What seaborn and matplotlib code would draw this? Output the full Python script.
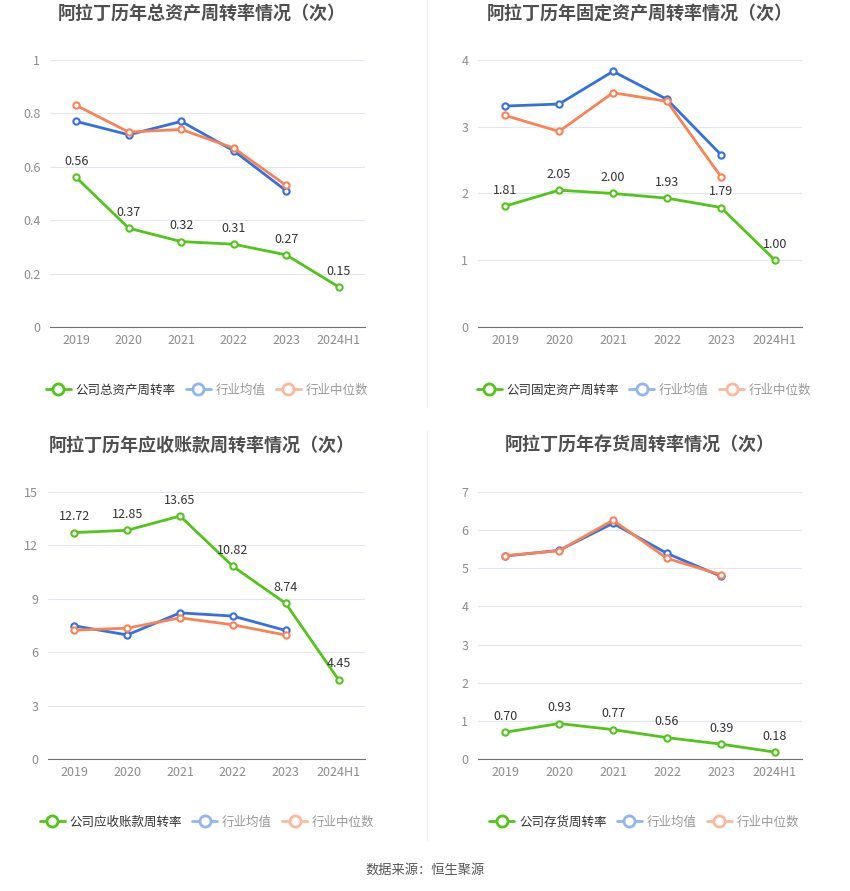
import seaborn as sns
import matplotlib.pyplot as plt
from matplotlib.lines import Line2D
import numpy as np
import pandas as pd

width, height, my_dpi = 850, 891, 100

years = ['2019', '2020', '2021', '2022', '2023', '2024H1']

# 总资产周转率
total_company = [0.56, 0.37, 0.32, 0.31, 0.27, 0.15]
total_mean = [0.77, 0.72, 0.77, 0.66, 0.51, np.nan]
total_median = [0.83, 0.73, 0.74, 0.67, 0.53, np.nan]

# 固定资产周转率
fixed_company = [1.81, 2.05, 2.00, 1.93, 1.79, 1.00]
fixed_mean = [3.31, 3.34, 3.83, 3.41, 2.58, np.nan]
fixed_median = [3.17, 2.93, 3.51, 3.38, 2.25, np.nan]

# 应收账款周转率
recv_company = [12.72, 12.85, 13.65, 10.82, 8.74, 4.45]
recv_mean = [7.48, 6.97, 8.21, 8.03, 7.22, np.nan]
recv_median = [7.24, 7.35, 7.93, 7.54, 6.96, np.nan]

# 存货周转率
inv_company = [0.70, 0.93, 0.77, 0.56, 0.39, 0.18]
inv_mean = [5.32, 5.47, 6.18, 5.39, 4.79, np.nan]
inv_median = [5.33, 5.46, 6.26, 5.26, 4.83, np.nan]

sns.set_style('white')
plt.rcParams['font.family'] = ['Noto Sans CJK SC', 'DejaVu Sans']

GREEN, BLUE, ORANGE = '#52c41a', '#3470e0', '#fa8254'
GREEN_L, BLUE_L, ORANGE_L = '#52c41a', '#93b3f2', '#fcb79e'

panels = [
    dict(title='阿拉丁历年总资产周转率情况（次）', name='公司总资产周转率',
         data=(total_company, total_mean, total_median), yt=[0, 0.2, 0.4, 0.6, 0.8, 1], ytl=['0', '0.2', '0.4', '0.6', '0.8', '1'],
         box=(50, 60, 365, 327), tx=202, ty=13, ly=390, lx=207),
    dict(title='阿拉丁历年固定资产周转率情况（次）', name='公司固定资产周转率',
         data=(fixed_company, fixed_mean, fixed_median), yt=[0, 1, 2, 3, 4], ytl=['0', '1', '2', '3', '4'],
         box=(478, 60, 802, 327), tx=640, ty=13, ly=390, lx=644),
    dict(title='阿拉丁历年应收账款周转率情况（次）', name='公司应收账款周转率',
         data=(recv_company, recv_mean, recv_median), yt=[0, 3, 6, 9, 12, 15], ytl=['0', '3', '6', '9', '12', '15'],
         box=(48, 492, 365, 759), tx=202, ty=445, ly=822, lx=207),
    dict(title='阿拉丁历年存货周转率情况（次）', name='公司存货周转率',
         data=(inv_company, inv_mean, inv_median), yt=[0, 1, 2, 3, 4, 5, 6, 7], ytl=['0', '1', '2', '3', '4', '5', '6', '7'],
         box=(478, 492, 802, 759), tx=640, ty=445, ly=822, lx=644),
]

fig = plt.figure(figsize=(width / my_dpi, height / my_dpi), dpi=my_dpi)

x = np.arange(len(years))
for p in panels:
    l, t, r, b = p['box']
    ax = fig.add_axes([l / width, 1 - b / height, (r - l) / width, (b - t) / height])
    comp, mean, med = p['data']
    df = pd.DataFrame({'x': x, 'company': comp, 'mean': mean, 'median': med})
    for col, c in [('company', GREEN), ('mean', BLUE), ('median', ORANGE)]:
        d = df.dropna(subset=[col])
        sns.lineplot(x='x', y=col, data=d, ax=ax, color=c, lw=2, marker='o',
                     markersize=4.5, markerfacecolor='white', markeredgecolor=c,
                     markeredgewidth=1.5, legend=False)
    top = p['yt'][-1]
    for xi, v in zip(x, comp):
        ax.text(xi, v + top * 0.035, f'{v:.2f}', ha='center', va='bottom', fontsize=9, color='#333333')
    ax.set_xlim(-0.5, 5.5)
    ax.set_ylim(0, top)
    ax.set_xticks(x)
    ax.set_xticklabels(years)
    ax.set_yticks(p['yt'])
    ax.set_yticklabels(p['ytl'])
    ax.set_xlabel('')
    ax.set_ylabel('')
    ax.yaxis.grid(True, color='#e3e7f3', lw=0.8)
    ax.set_axisbelow(True)
    for s in ['top', 'right', 'left']:
        ax.spines[s].set_visible(False)
    ax.spines['bottom'].set_color('#6e7079')
    ax.tick_params(axis='x', length=4, color='#6e7079', labelcolor='#8c8c8c', labelsize=9, pad=1)
    ax.tick_params(axis='y', length=0, labelcolor='#8c8c8c', labelsize=9, pad=7)

    fig.text(p['tx'] / width, 1 - p['ty'] / height, p['title'], ha='center', va='center',
             fontsize=13, fontweight='bold', color='#4f4f4f')

    handles = [
        Line2D([], [], color=GREEN_L, lw=2, marker='o', ms=8, mfc='white', mew=2),
        Line2D([], [], color=BLUE_L, lw=2, marker='o', ms=8, mfc='white', mew=2),
        Line2D([], [], color=ORANGE_L, lw=2, marker='o', ms=8, mfc='white', mew=2),
    ]
    leg = fig.legend(handles, [p['name'], '行业均值', '行业中位数'], loc='center',
                     bbox_to_anchor=(p['lx'] / width, 1 - p['ly'] / height), ncol=3, frameon=False,
                     fontsize=9, handlelength=2.0, handletextpad=0.4, columnspacing=0.8)
    for txt, c in zip(leg.get_texts(), ['#333333', '#999999', '#999999']):
        txt.set_color(c)

# divider lines
fig.add_artist(Line2D([427 / width, 427 / width], [1 - 0 / height, 1 - 407 / height], color='#eeeeee', lw=1))
fig.add_artist(Line2D([427 / width, 427 / width], [1 - 431 / height, 1 - 840 / height], color='#eeeeee', lw=1))

fig.text(425 / width, 1 - 870 / height, '数据来源：恒生聚源', ha='center', va='center', fontsize=9.5, color='#555555')

plt.savefig('out.png', dpi=my_dpi)
